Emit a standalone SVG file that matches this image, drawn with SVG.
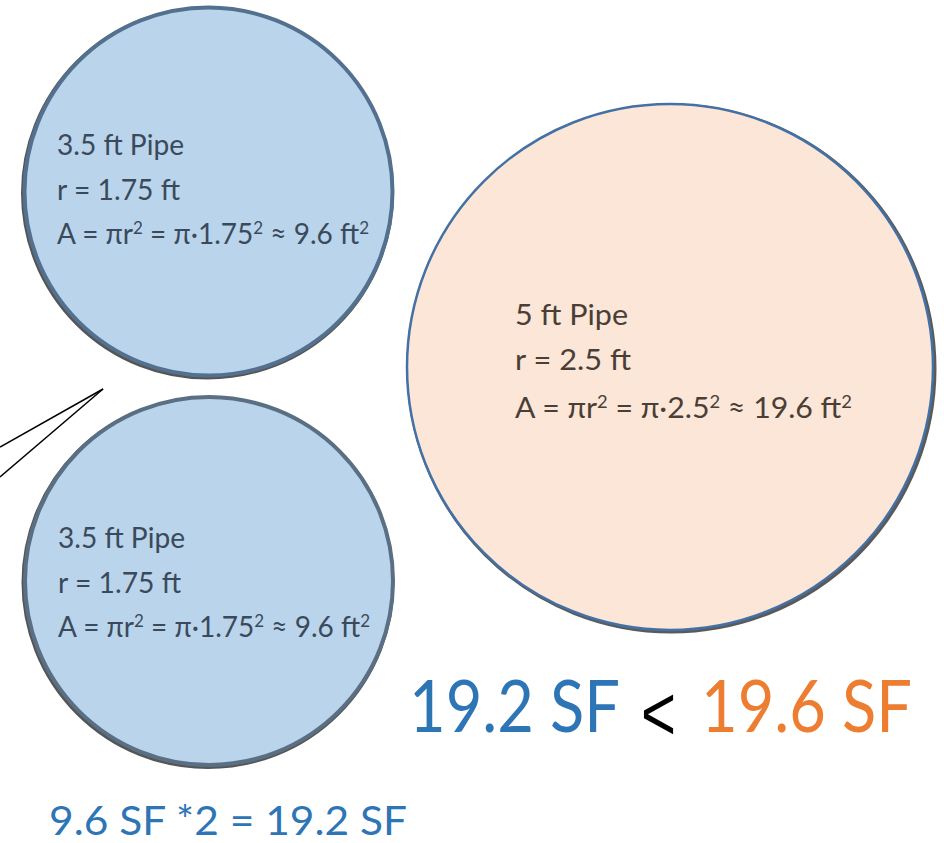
<svg xmlns="http://www.w3.org/2000/svg" width="944" height="843" viewBox="0 0 944 843">
<style>
.blue{fill:#b9d4eb}
.peach{fill:#fbe6d8}
.t{font-family:Lato,"Open Sans","Liberation Sans",sans-serif;font-size:28px}
.tb{fill:#3b4a5b}
.tr{fill:#4a3e36}
.sup{font-size:17px}
.big{font-family:Lato,"Open Sans","Liberation Sans",sans-serif;font-size:71px}
.conn{stroke:#000;stroke-width:1.5;fill:none}
</style>
<rect width="944" height="843" fill="#fff"/>
<g id="pipe-top">
<circle cx="207.5" cy="193" r="184" fill="none" stroke="#555" stroke-width="5"/>
<circle cx="208.5" cy="191.5" r="184" class="blue" stroke="#53718f" stroke-width="4"/>
<text class="t tb" x="57" y="155" textLength="127" lengthAdjust="spacingAndGlyphs">3.5 ft Pipe</text>
<text class="t tb" x="57" y="200" textLength="123" lengthAdjust="spacingAndGlyphs">r = 1.75 ft</text>
<text class="t tb" x="57" y="244" textLength="312" lengthAdjust="spacingAndGlyphs">A = πr<tspan class="sup" dy="-10">2</tspan><tspan dy="10"> = π·1.75</tspan><tspan class="sup" dy="-10">2</tspan><tspan dy="10"> ≈ 9.6 ft</tspan><tspan class="sup" dy="-10">2</tspan></text>
</g>
<g id="pipe-bottom">
<circle cx="208" cy="582.5" r="184" fill="none" stroke="#555" stroke-width="5"/>
<circle cx="209" cy="581" r="184" class="blue" stroke="#5a6f84" stroke-width="4"/>
<text class="t tb" x="58" y="548" textLength="127" lengthAdjust="spacingAndGlyphs">3.5 ft Pipe</text>
<text class="t tb" x="58" y="593" textLength="123" lengthAdjust="spacingAndGlyphs">r = 1.75 ft</text>
<text class="t tb" x="58" y="637" textLength="312" lengthAdjust="spacingAndGlyphs">A = πr<tspan class="sup" dy="-10">2</tspan><tspan dy="10"> = π·1.75</tspan><tspan class="sup" dy="-10">2</tspan><tspan dy="10"> ≈ 9.6 ft</tspan><tspan class="sup" dy="-10">2</tspan></text>
</g>
<g id="pipe-large">
<circle cx="671.5" cy="368.5" r="263" fill="none" stroke="#5a5a5a" stroke-width="4"/>
<circle cx="670" cy="367" r="263" class="peach" stroke="#4471a5" stroke-width="2.5"/>
<text class="t tr" x="515" y="325" textLength="113" lengthAdjust="spacingAndGlyphs">5 ft Pipe</text>
<text class="t tr" x="515" y="370" textLength="116" lengthAdjust="spacingAndGlyphs">r = 2.5 ft</text>
<text class="t tr" x="515" y="418" textLength="337" lengthAdjust="spacingAndGlyphs">A = πr<tspan class="sup" dy="-10">2</tspan><tspan dy="10"> = π·2.5</tspan><tspan class="sup" dy="-10">2</tspan><tspan dy="10"> ≈ 19.6 ft</tspan><tspan class="sup" dy="-10">2</tspan></text>
</g>
<g id="connectors">
<line class="conn" x1="0" y1="447" x2="103" y2="389"/>
<line class="conn" x1="0" y1="477" x2="103" y2="389"/>
</g>
<g id="comparison">
<text class="big" x="409" y="732" fill="#2e75b6" textLength="211" lengthAdjust="spacingAndGlyphs">19.2 SF</text>
<text x="641" y="740" font-family="'Liberation Sans',sans-serif" font-size="78" fill="#000" textLength="35" lengthAdjust="spacingAndGlyphs">&lt;</text>
<text class="big" x="701" y="732" fill="#ed7d31" textLength="211" lengthAdjust="spacingAndGlyphs">19.6 SF</text>
</g>
<g id="sum">
<text x="49" y="835" font-family="Lato,'Open Sans','Liberation Sans',sans-serif" font-size="40" fill="#2e75b6" textLength="358" lengthAdjust="spacingAndGlyphs">9.6 SF *2 = 19.2 SF</text>
</g>
</svg>
